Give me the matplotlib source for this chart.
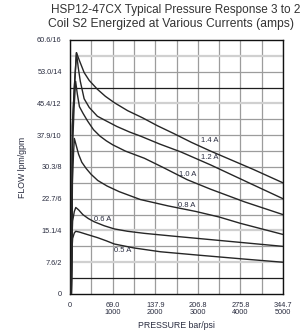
import matplotlib
matplotlib.use("Agg")
import matplotlib.pyplot as plt

plt.rcParams['font.family'] = ['Liberation Sans', 'DejaVu Sans']

# pressure in psi, flow in gpm
p_14 = [30, 45, 55, 100, 150, 220, 330, 450, 640, 830, 1040, 1350, 1700, 2050,
        2440, 2850, 3300, 4300, 5000]
q_14 = [0, 6, 10.6, 13.0, 15.2, 14.7, 13.95, 13.45, 12.9, 12.45, 12.05, 11.55, 11.1, 10.6,
        10.1, 9.55, 9.0, 7.85, 7.0]

p_12 = [30, 45, 55, 100, 150, 190, 240, 330, 450, 640, 850, 1100, 1400, 1650, 2100,
        2600, 3300, 4200, 5000]
q_12 = [0, 6, 10.6, 13.0, 15.2, 14.3, 13.4, 12.3, 11.75, 11.2, 10.9, 10.55, 10.2, 9.95, 9.45,
        8.95, 8.13, 7.0, 6.0]

p_10 = [30, 45, 55, 95, 130, 170, 220, 300, 410, 550, 700, 850, 1000, 1300, 1745, 2200,
        2750, 3300, 4100, 5000]
q_10 = [0, 5, 9, 11.8, 13.4, 12.6, 11.8, 11.4, 10.9, 10.35, 9.95, 9.65, 9.4, 9.0, 8.55, 7.95,
        7.2, 6.6, 5.8, 5.0]

p_08 = [30, 45, 55, 80, 100, 140, 200, 275, 380, 490, 650, 870, 1150, 1650, 2300, 2950,
        3500, 4000, 4500, 5000]
q_08 = [0, 4, 7, 8.8, 9.8, 9.4, 8.8, 8.3, 7.9, 7.55, 7.15, 6.8, 6.45, 5.95, 5.55, 5.2,
        4.85, 4.45, 4.1, 3.75]

p_06 = [30, 45, 60, 100, 134, 200, 300, 430, 566, 800, 1038, 1350, 1745, 2400, 3000, 4000, 5000]
q_06 = [0, 3.5, 4.6, 5.2, 5.45, 5.3, 5.0, 4.75, 4.55, 4.3, 4.1, 3.95, 3.82, 3.65, 3.5, 3.25, 3.0]

p_05 = [30, 45, 60, 100, 134, 220, 400, 644, 850, 1038, 1500, 2123, 3000, 4000, 5000]
q_05 = [0, 2.8, 3.5, 3.85, 3.95, 3.9, 3.75, 3.55, 3.35, 3.15, 2.9, 2.66, 2.45, 2.22, 2.0]

curves = [(p_14, q_14), (p_12, q_12), (p_10, q_10),
          (p_08, q_08), (p_06, q_06), (p_05, q_05)]

# curve labels: text, psi, gpm
labels = [("1.4 A", 3066, 9.45), ("1.2 A", 3080, 8.4), ("1.0 A", 2547, 7.3),
          ("0.8 A", 2531, 5.35), ("0.6 A", 550, 4.5), ("0.5 A", 1038, 2.5)]

x_ticks = [0, 1000, 2000, 3000, 4000, 5000]
x_labels = ["0", "69.0\n1000", "137.9\n2000", "206.8\n3000", "275.8\n4000", "344.7\n5000"]
y_ticks = [0, 2, 4, 6, 8, 10, 12, 14, 16]
y_labels = ["0", "7.6/2", "15.1/4", "22.7/6", "30.3/8", "37.9/10", "45.4/12", "53.0/14", "60.6/16"]

fig = plt.figure(figsize=(3.06, 3.35), dpi=100)
ax = fig.add_axes([0.229, 0.1224, 0.696, 0.7582])

txt = '#2a2d40'

# grid
for x in range(0, 5001, 500):
    ax.axvline(x, color='#9c9c9c', lw=0.9, zorder=1)
for y in range(1, 16):
    if y in (13, 1):
        ax.axhline(y, color='#1e1e1e', lw=0.9, zorder=1)
    elif y in (15, 12, 4, 2):
        ax.axhline(y, color='#d0d0d0', lw=1.6, zorder=1)
    else:
        ax.axhline(y, color='#9c9c9c', lw=0.9, zorder=1)

for p, q in curves:
    ax.plot(p, q, color='#262626', lw=1.0, zorder=3)

for t, x, y in labels:
    ax.text(x, y, t, fontsize=5.5, color=txt, ha='left', va='bottom', zorder=4)

ax.set_xlim(0, 5000)
ax.set_ylim(0, 16)
ax.set_xticks(x_ticks)
ax.set_xticklabels(x_labels, fontsize=5.3, color=txt, linespacing=0.9)
ax.set_yticks(y_ticks)
ax.set_yticklabels(y_labels, fontsize=5.3, color=txt)
ax.tick_params(length=0, pad=6)
for s in ax.spines.values():
    s.set_linewidth(1.0)
    s.set_color('#111111')

ax.set_xlabel("PRESSURE bar/psi", fontsize=6.3, color=txt, labelpad=4)
ax.set_ylabel("FLOW lpm/gpm", fontsize=6.3, color=txt, labelpad=7)

fig.text(0.573, 0.97, "HSP12-47CX Typical Pressure Response 3 to 2",
         fontsize=8.5, color='#333333', ha='center', va='center')
fig.text(0.559, 0.928, "Coil S2 Energized at Various Currents (amps)",
         fontsize=8.7, color='#333333', ha='center', va='center')

fig.savefig("out.png", dpi=100)
